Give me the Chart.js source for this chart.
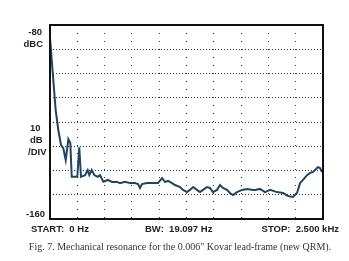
<!DOCTYPE html>
<html>
<head>
<meta charset="utf-8">
<script src="https://cdn.jsdelivr.net/npm/chart.js@4.4.1/dist/chart.umd.min.js"></script>
<style>
  html, body { margin: 0; padding: 0; background: #fff; }
  #wrap { position: relative; width: 349px; height: 261px; }
</style>
</head>
<body>
<div id="wrap"><canvas id="myChart" width="349" height="261"></canvas></div>
<script>
// spectrum trace: frequency (Hz) and level (dBc)
const freqHz = [0, 5, 52, 76, 101, 122, 144, 168, 186, 199, 250, 268, 284, 321, 345, 360, 382, 406, 437, 458,
  488, 531, 568, 614, 641, 687, 733, 778, 806, 824, 843, 888, 943, 989, 1026, 1053, 1081, 1117, 1145, 1191,
  1218, 1255, 1282, 1310, 1346, 1374, 1401, 1438, 1465, 1493, 1529, 1557, 1584, 1621, 1648, 1676, 1713, 1758,
  1804, 1859, 1877, 1923, 1969, 2015, 2079, 2134, 2180, 2225, 2262, 2290, 2317, 2354, 2381, 2409, 2445, 2454,
  2473, 2491]
const levelDb = [-85.4, -85.4, -115.1, -123.3, -129.5, -130.8, -135.7, -127.1, -128.7, -142.6, -142.6, -130.4,
  -142.6, -141.9, -139.8, -141.9, -139.8, -141.9, -142.6, -141.9,
  -144.6, -143.9, -144.7, -144.7, -145.2, -144.7, -145.2, -145.2, -145.6, -147.2, -145.6, -145.2, -145.2,
  -145.2, -143.1, -144.7, -144.3, -145.2, -146.0, -146.8,
  -148.0, -148.9, -148.0, -146.8, -148.0, -148.9, -148.0, -146.8, -147.2, -148.9, -148.0, -146.0, -147.2,
  -148.0, -149.3, -150.1, -148.9, -148.0,
  -147.6, -148.0, -148.0, -147.6, -148.9, -148.0, -148.9, -149.3, -150.5, -150.9, -149.3, -145.2, -143.9,
  -141.9, -141.0, -140.6, -139.0, -138.6,
  -139.0, -140.6]

const xMin = 0, xMax = 2500, xStep = 250
const yMin = -160, yMax = -80, yStep = 10

const divLabels = ['10', 'dB', '/DIV']
const bottomLabels = ['START:  0 Hz', 'BW:  19.097 Hz', 'STOP:  2.500 kHz']
const caption = 'Fig. 7. Mechanical resonance for the 0.006" Kovar lead-frame (new QRM).'

const points = freqHz.map((f, i) => ({ x: f, y: levelDb[i] }))

// frame + all the text around the plot
const decorPlugin = {
  id: 'decor',
  afterDraw(chart) {
    const ctx = chart.ctx
    const a = chart.chartArea
    ctx.save()
    ctx.strokeStyle = '#111'
    ctx.lineWidth = 2
    ctx.strokeRect(a.left, a.top, a.right - a.left, a.bottom - a.top)

    ctx.fillStyle = '#222'
    ctx.font = 'bold 9.5px "Liberation Sans", Arial, sans-serif'
    ctx.textAlign = 'right'
    ctx.textBaseline = 'middle'
    ctx.fillText('-80', 42, 32)
    ctx.fillText('dBC', 43, 44)
    ctx.textAlign = 'left'
    ctx.fillText(divLabels[0], 30, 128)
    ctx.fillText(divLabels[1], 30, 140)
    ctx.fillText(divLabels[2], 28, 152)
    ctx.textAlign = 'right'
    ctx.fillText('-160', 45, 214)

    ctx.textAlign = 'left'
    ctx.fillText(bottomLabels[0], 31, 229)
    ctx.fillText(bottomLabels[1], 145, 229)
    ctx.textAlign = 'right'
    ctx.fillText(bottomLabels[2], 339, 229)

    ctx.font = '10px "Liberation Serif", "Times New Roman", serif'
    ctx.fillStyle = '#333'
    ctx.textAlign = 'center'
    ctx.fillText(caption, 180, 247)
    ctx.restore()
  }
}

const chartInstance = new Chart(document.getElementById('myChart'), {
  type: 'line',
  data: {
    datasets: [{
      data: points,
      borderColor: '#1f4660',
      borderWidth: 2,
      pointRadius: 0,
      tension: 0,
      fill: false
    }]
  },
  options: {
    responsive: false,
    animation: false,
    layout: { padding: { left: 50, top: 25, right: 26, bottom: 42 } },
    plugins: { legend: { display: false }, tooltip: { enabled: false } },
    scales: {
      x: {
        type: 'linear', min: xMin, max: xMax,
        ticks: { display: false, stepSize: xStep },
        border: { display: false, dash: [1, 7] },
        grid: { color: '#333', lineWidth: 1, drawTicks: false }
      },
      y: {
        min: yMin, max: yMax,
        ticks: { display: false, stepSize: yStep },
        border: { display: false, dash: [1, 2] },
        grid: { color: '#333', lineWidth: 1, drawTicks: false }
      }
    }
  },
  plugins: [decorPlugin]
})
</script>
</body>
</html>
